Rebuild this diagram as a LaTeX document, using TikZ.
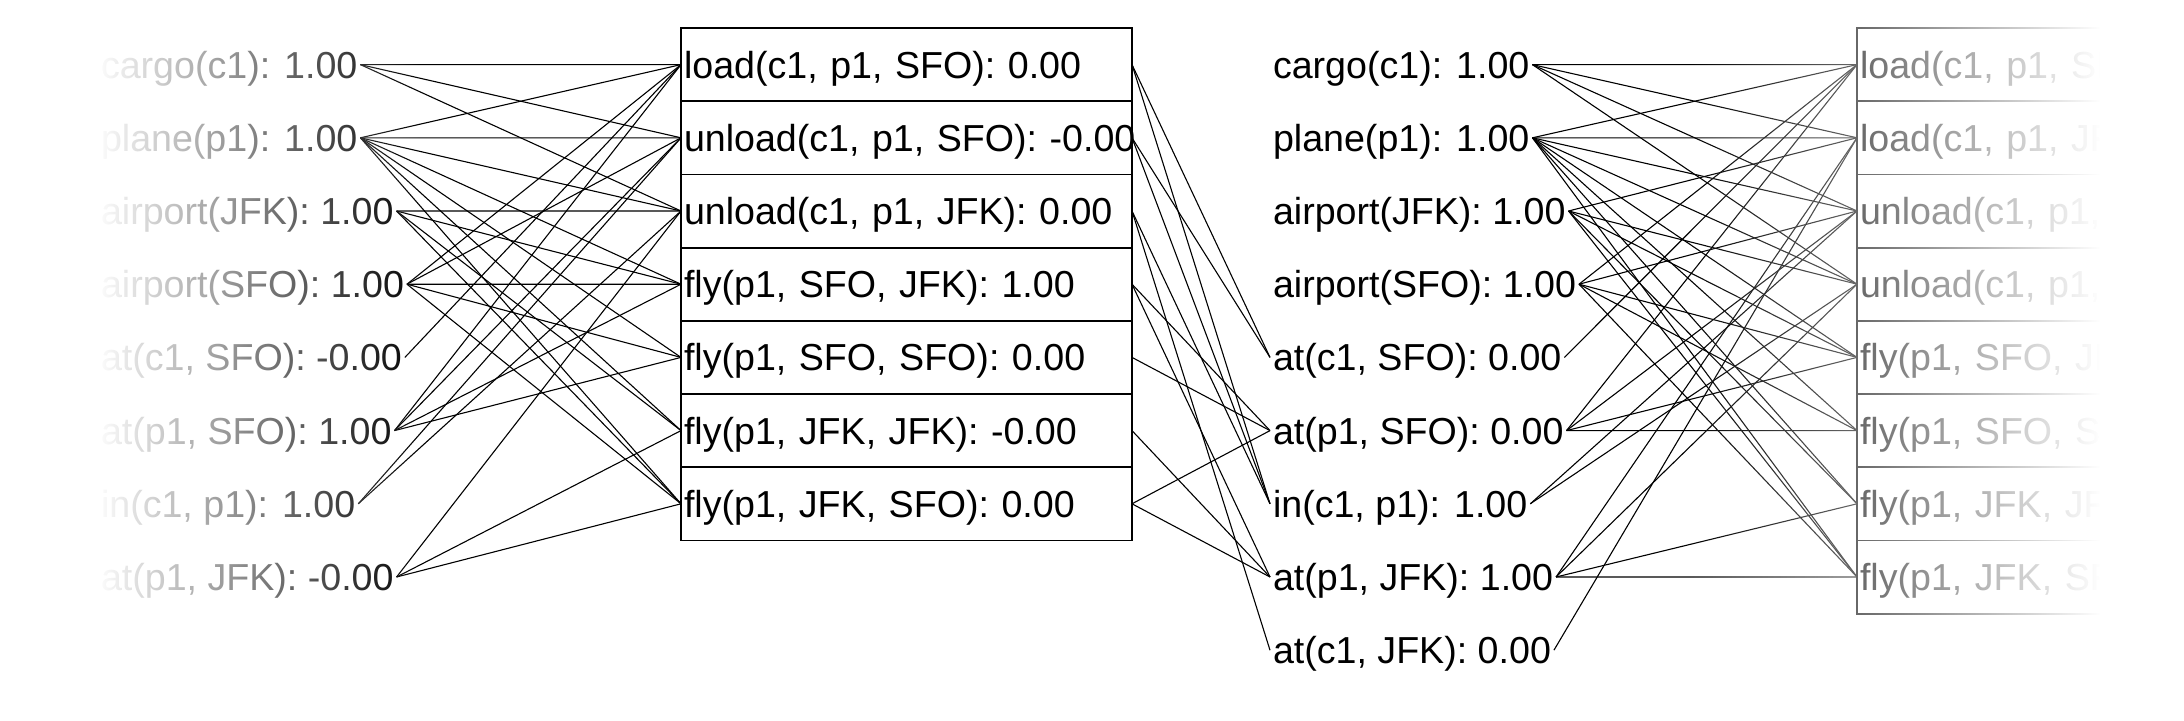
\documentclass[tikz,border=0pt]{standalone}
\usepackage{fontspec}
\setmainfont{Liberation Sans}
\usetikzlibrary{positioning,fadings}

\tikzfading[name=fade out left, left color=transparent!0, right color=transparent!100]
\tikzfading[name=fade out right, left color=transparent!100, right color=transparent!0]

\begin{document}
\begin{tikzpicture}[x=1pt, y=-1pt,
	every node/.style={font=\fontsize{37.6}{44}\selectfont, inner sep=3pt, outer sep=0pt, text height=27pt, text depth=0pt},
	act/.style={draw, line width=1.8pt, text width=445pt, inner xsep=3pt, minimum height=73.2pt, align=left},
	link/.style={line width=1.1pt}]
	\useasboundingbox (0,0) rectangle (2184,720);
	% facts, first layer
	\node[anchor=west] (lcargo) at (98,64.6) {cargo(c1): 1.00};
	\node[anchor=west] (lplane) at (98,137.8) {plane(p1): 1.00};
	\node[anchor=west] (ljfk) at (98,211) {airport(JFK): 1.00};
	\node[anchor=west] (lsfo) at (98,284.2) {airport(SFO): 1.00};
	\node[anchor=west] (lcsfo) at (98,357.4) {at(c1, SFO): -0.00};
	\node[anchor=west] (lpsfo) at (98,430.6) {at(p1, SFO): 1.00};
	\node[anchor=west] (lin) at (98,503.8) {in(c1, p1): 1.00};
	\node[anchor=west] (lpjfk) at (98,577) {at(p1, JFK): -0.00};
	% actions, first layer
	\node[act, anchor=north west] (mload) at (681,28) {\mbox{load(c1, p1, SFO): 0.00}};
	\node[act, below=0pt of mload] (munsfo) {\mbox{unload(c1, p1, SFO): -0.00}};
	\node[act, below=0pt of munsfo] (munjfk) {\mbox{unload(c1, p1, JFK): 0.00}};
	\node[act, below=0pt of munjfk] (mfsj) {\mbox{fly(p1, SFO, JFK): 1.00}};
	\node[act, below=0pt of mfsj] (mfss) {\mbox{fly(p1, SFO, SFO): 0.00}};
	\node[act, below=0pt of mfss] (mfjj) {\mbox{fly(p1, JFK, JFK): -0.00}};
	\node[act, below=0pt of mfjj] (mfjs) {\mbox{fly(p1, JFK, SFO): 0.00}};
	% facts, second layer
	\node[anchor=west] (rcargo) at (1270,64.6) {cargo(c1): 1.00};
	\node[anchor=west] (rplane) at (1270,137.8) {plane(p1): 1.00};
	\node[anchor=west] (rjfk) at (1270,211) {airport(JFK): 1.00};
	\node[anchor=west] (rsfo) at (1270,284.2) {airport(SFO): 1.00};
	\node[anchor=west] (rcsfo) at (1270,357.4) {at(c1, SFO): 0.00};
	\node[anchor=west] (rpsfo) at (1270,430.6) {at(p1, SFO): 0.00};
	\node[anchor=west] (rin) at (1270,503.8) {in(c1, p1): 1.00};
	\node[anchor=west] (rpjfk) at (1270,577) {at(p1, JFK): 1.00};
	\node[anchor=west] (rcjfk) at (1270,650.2) {at(c1, JFK): 0.00};
	% actions, second layer
	\node[act, anchor=north west] (aloadsfo) at (1857,28) {\mbox{load(c1, p1, SFO)}};
	\node[act, below=0pt of aloadsfo] (aloadjfk) {\mbox{load(c1, p1, JFK)}};
	\node[act, below=0pt of aloadjfk] (aunsfo) {\mbox{unload(c1, p1, SFO)}};
	\node[act, below=0pt of aunsfo] (aunjfk) {\mbox{unload(c1, p1, JFK)}};
	\node[act, below=0pt of aunjfk] (afsj) {\mbox{fly(p1, SFO, JFK)}};
	\node[act, below=0pt of afsj] (afss) {\mbox{fly(p1, SFO, SFO)}};
	\node[act, below=0pt of afss] (afjj) {\mbox{fly(p1, JFK, JFK)}};
	\node[act, below=0pt of afjj] (afjs) {\mbox{fly(p1, JFK, SFO)}};
	% preconditions
	\draw[link] (lcargo.east) edge (mload.west) edge (munsfo.west) edge (munjfk.west);
	\draw[link] (lplane.east) edge (mload.west) edge (munsfo.west) edge (munjfk.west) edge (mfsj.west) edge (mfss.west) edge (mfjj.west) edge (mfjs.west);
	\draw[link] (ljfk.east) edge (munjfk.west) edge (mfsj.west) edge (mfjj.west) edge (mfjs.west);
	\draw[link] (lsfo.east) edge (mload.west) edge (munsfo.west) edge (mfsj.west) edge (mfss.west) edge (mfjs.west);
	\draw[link] (lcsfo.east) edge (mload.west);
	\draw[link] (lpsfo.east) edge (mload.west) edge (munsfo.west) edge (mfsj.west) edge (mfss.west);
	\draw[link] (lin.east) edge (munsfo.west) edge (munjfk.west);
	\draw[link] (lpjfk.east) edge (munjfk.west) edge (mfjj.west) edge (mfjs.west);
	% effects
	\draw[link] (mload.east) edge (rcsfo.west) edge (rin.west);
	\draw[link] (munsfo.east) edge (rcsfo.west) edge (rin.west);
	\draw[link] (munjfk.east) edge (rcjfk.west) edge (rin.west);
	\draw[link] (mfsj.east) edge (rpjfk.west) edge (rpsfo.west);
	\draw[link] (mfss.east) edge (rpsfo.west);
	\draw[link] (mfjj.east) edge (rpjfk.west);
	\draw[link] (mfjs.east) edge (rpsfo.west) edge (rpjfk.west);
	% preconditions, second layer
	\draw[link] (rcargo.east) edge (aloadsfo.west) edge (aloadjfk.west) edge (aunsfo.west) edge (aunjfk.west);
	\draw[link] (rplane.east) edge (aloadsfo.west) edge (aloadjfk.west) edge (aunsfo.west) edge (aunjfk.west) edge (afsj.west) edge (afss.west) edge (afjj.west) edge (afjs.west);
	\draw[link] (rjfk.east) edge (aloadjfk.west) edge (aunjfk.west) edge (afsj.west) edge (afjj.west) edge (afjs.west);
	\draw[link] (rsfo.east) edge (aloadsfo.west) edge (aunsfo.west) edge (afsj.west) edge (afss.west) edge (afjs.west);
	\draw[link] (rcsfo.east) edge (aloadsfo.west);
	\draw[link] (rpsfo.east) edge (aloadsfo.west) edge (aunsfo.west) edge (afsj.west) edge (afss.west);
	\draw[link] (rin.east) edge (aunsfo.west) edge (aunjfk.west);
	\draw[link] (rpjfk.east) edge (aloadjfk.west) edge (aunjfk.west) edge (afjj.west) edge (afjs.west);
	\draw[link] (rcjfk.east) edge (aloadjfk.west);
	% fade at both sides
	\fill[white] (0,0) rectangle (96,720);
	\fill[white, path fading=fade out left] (96,0) rectangle (420,720);
	\fill[white, path fading=fade out right] (1690,0) rectangle (2100,720);
	\fill[white] (2100,0) rectangle (2184,720);
\end{tikzpicture}
\end{document}
